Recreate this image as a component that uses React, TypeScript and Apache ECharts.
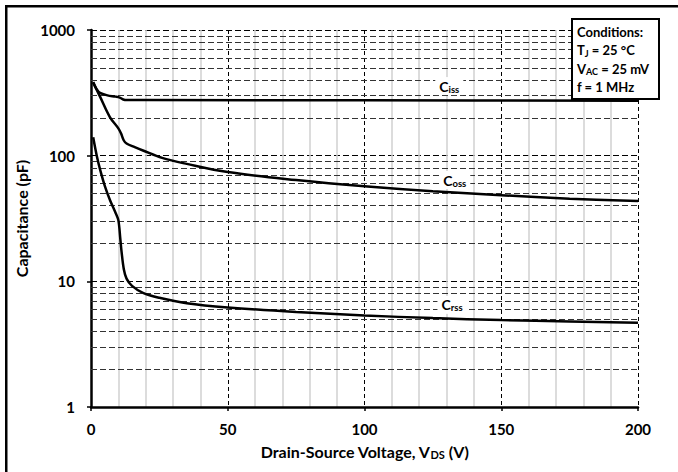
import React, { useEffect, useRef } from "react";
import * as echarts from "echarts";

const xTicks = [0, 50, 100, 150, 200];
const yTicks = [1, 10, 100, 1000];
const minorY = [2, 3, 4, 5, 6, 7, 8, 9, 20, 30, 40, 50, 60, 70, 80, 90, 200, 300, 400, 500, 600, 700, 800, 900];

const cissV = [0.8, 2, 3.3, 6, 9, 10.5, 11.8, 13, 20, 100, 200];
const cissC = [385, 340, 316, 302, 295, 290, 280, 277, 277, 276, 274];

const cossV = [0.8, 3.3, 6.9, 10, 11, 12, 13, 16, 19, 26, 35, 50, 75, 100, 125, 150, 175, 200];
const cossC = [380, 295, 203, 165, 150, 132, 125, 117, 110, 96, 86, 74, 64, 57, 52, 48.5, 45.5, 43.5];

const crssV = [0.8, 2.1, 3.5, 5.1, 7, 9, 10, 10.7, 11.2, 12, 13, 15, 19, 25, 35, 50, 75, 100, 125, 150, 175, 200];
const crssC = [140, 100, 75, 57, 44, 35, 30.7, 22, 17, 12.5, 10.5, 9.2, 8.1, 7.4, 6.7, 6.2, 5.7, 5.35, 5.1, 4.92, 4.8, 4.68];

const curveLabels = [
  { main: "C", sub: "iss", x: 131, y: 358 },
  { main: "C", sub: "oss", x: 133, y: 64 },
  { main: "C", sub: "rss", x: 132, y: 6.5 },
];

const conditions = ["Conditions:", "T{s|J} = 25 °C", "V{s|AC} = 25 mV", "f = 1 MHz"];

const FONT = "Lato, 'Open Sans', sans-serif";

const zip = (a: number[], b: number[]) => a.map((v, i) => [v, b[i]]);

export default function App() {
  const ref = useRef<HTMLDivElement>(null);
  useEffect(() => {
    if (!ref.current) return;
    const chart = echarts.init(ref.current, undefined, { renderer: "svg" });
    const curveStyle = { color: "#000", width: 2.5 };
    const mkSeries = (name: string, data: number[][], lbl: any) => ({
      name,
      type: "line",
      data,
      showSymbol: false,
      symbol: "none",
      smooth: 0.35,
      lineStyle: curveStyle,
      silent: true,
      z: 5,
      markPoint: {
        symbol: "rect",
        symbolSize: 1,
        itemStyle: { color: "rgba(0,0,0,0)" },
        data: [
          {
            coord: [lbl.x, lbl.y],
            label: {
              show: true,
              position: "inside",
              formatter: `{m|${lbl.main}}{s|${lbl.sub}}`,
              backgroundColor: "#fff",
              padding: [1, 4, 1, 4],
              rich: {
                m: { fontFamily: FONT, fontWeight: "bold", fontSize: 14, color: "#000" },
                s: { fontFamily: FONT, fontWeight: "bold", fontSize: 9.5, color: "#000", verticalAlign: "bottom", padding: [6, 0, 0, 0] },
              },
            },
          },
        ],
      },
    });
    const condTexts = conditions.map((t, i) => ({
      type: "text",
      left: 577,
      top: 25 + i * 18.5,
      style: {
        text: t,
        font: `bold 13px ${FONT}`,
        fill: "#000",
        rich: {
          s: { fontFamily: FONT, fontWeight: "bold", fontSize: 9, fill: "#000", verticalAlign: "bottom", padding: [6, 0, 0, 0] },
        },
      },
      z: 101,
    }));
    chart.setOption({
      animation: false,
      backgroundColor: "#fff",
      grid: { left: 91, right: 40, top: 30, bottom: 65, containLabel: false },
      xAxis: {
        type: "value",
        min: xTicks[0],
        max: xTicks[xTicks.length - 1],
        interval: 50,
        name: "Drain-Source Voltage, V{s|DS} (V)",
        nameLocation: "middle",
        nameGap: 35,
        nameTextStyle: {
          fontFamily: FONT,
          fontWeight: "bold",
          fontSize: 16,
          color: "#000",
          rich: {
            s: { fontFamily: FONT, fontWeight: "bold", fontSize: 11, color: "#000", verticalAlign: "bottom", padding: [7, 0, 0, 0] },
          },
        },
        axisLine: { show: true, onZero: false, lineStyle: { color: "#000", width: 2.5 } },
        axisTick: { show: true, length: 4, lineStyle: { color: "#000", width: 1.5 } },
        axisLabel: { fontFamily: FONT, fontWeight: "bold", fontSize: 15, color: "#000", margin: 14 },
        splitLine: { show: true, lineStyle: { color: "#000", width: 1, type: [4, 3] } },
        minorTick: { show: true, splitNumber: 5, length: 0, lineStyle: { width: 0 } },
        minorSplitLine: { show: true, lineStyle: { color: "#d0d0d0", width: 1.5 } },
      },
      yAxis: {
        type: "log",
        logBase: 10,
        min: yTicks[0],
        max: yTicks[yTicks.length - 1],
        name: "Capacitance (pF)",
        nameLocation: "middle",
        nameGap: 57,
        nameTextStyle: { fontFamily: FONT, fontWeight: "bold", fontSize: 16, color: "#000" },
        axisLine: { show: true, lineStyle: { color: "#000", width: 2.5 } },
        axisTick: { show: true, length: 4, lineStyle: { color: "#000", width: 1.5 } },
        axisLabel: {
          fontFamily: FONT,
          fontWeight: "bold",
          fontSize: 15,
          color: "#000",
          margin: 16,
          formatter: (v: number) => String(Math.round(v)),
        },
        splitLine: { show: true, lineStyle: { color: "#000", width: 1, type: [6, 3] } },
      },
      series: [
        {
          name: "minor",
          type: "line",
          data: [],
          silent: true,
          z: 1,
          markLine: {
            silent: true,
            symbol: ["none", "none"],
            label: { show: false },
            lineStyle: { color: "#333", width: 1, type: [6, 3] },
            data: minorY.map((v) => ({ yAxis: v })),
          },
        },
        mkSeries("Ciss", zip(cissV, cissC), curveLabels[0]),
        mkSeries("Coss", zip(cossV, cossC), curveLabels[1]),
        mkSeries("Crss", zip(crssV, crssC), curveLabels[2]),
      ],
      graphic: [
        {
          type: "rect",
          shape: { x: 0, y: 0, width: 700, height: 2.5 },
          x: 5,
          y: 5,
          style: { fill: "#000" },
          z: 100,
        },
        {
          type: "rect",
          shape: { x: 0, y: 0, width: 2.5, height: 480 },
          x: 5,
          y: 5,
          style: { fill: "#000" },
          z: 100,
        },
        {
          type: "rect",
          shape: { x: 572, y: 19, width: 87, height: 80 },
          style: { fill: "#fff", stroke: "#000", lineWidth: 2 },
          z: 100,
        },
        ...condTexts,
      ],
    });
    return () => chart.dispose();
  }, []);
  return <div ref={ref} style={{ width: 678, height: 472, position: "absolute", left: 0, top: 0 }} />;
}
